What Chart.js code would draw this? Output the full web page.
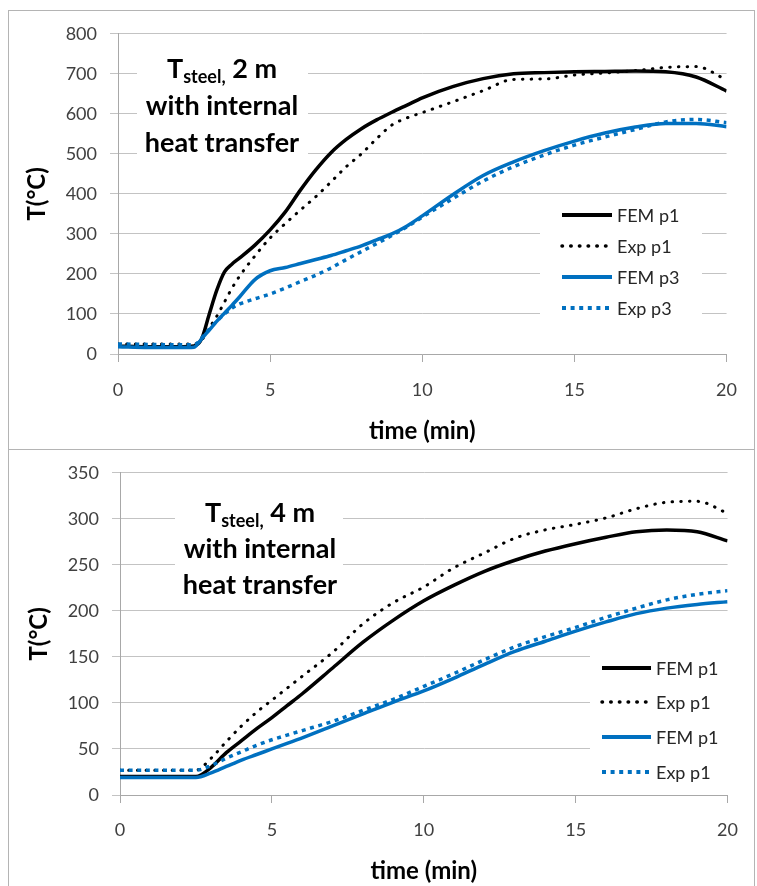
<!DOCTYPE html>
<html>
<head>
<meta charset="utf-8">
<script src="https://cdn.jsdelivr.net/npm/chart.js@4.4.1/dist/chart.umd.min.js"></script>
<style>
  html, body { margin: 0; padding: 0; background: #fff; }
  body { position: relative; width: 757px; height: 886px; overflow: hidden; }
  .panel { position: absolute; left: 8px; width: 745px; border: 1px solid #b4b4b4; }
  #p1 { top: 10px; height: 438px; }
  #p2 { top: 449px; height: 460px; }
  canvas { position: absolute; left: 8px; }
  #c1 { top: 10px; }
  #c2 { top: 449px; }
</style>
</head>
<body>
<div class="panel" id="p1"></div>
<div class="panel" id="p2"></div>
<canvas id="c1" width="746" height="439"></canvas>
<canvas id="c2" width="746" height="437"></canvas>
<script>
// ---- data (time in min, temperature in °C) ----
var labelsTop = ['FEM p1', 'Exp p1', 'FEM p3', 'Exp p3'];
var labelsBot = ['FEM p1', 'Exp p1', 'FEM p1', 'Exp p1'];

var timeTop = [0, 1, 2, 2.5, 2.75, 3, 3.25, 3.5, 3.75, 4, 4.5, 5, 5.5, 6, 6.5, 7, 7.5, 8, 8.5, 9, 9.5, 10, 11, 12, 13, 14, 15, 16, 17, 18, 19, 20];
var femP1Top = [20, 18, 18, 20, 38, 100, 160, 205, 225, 240, 272, 310, 355, 410, 460, 503, 536, 563, 585, 604, 622, 640, 668, 688, 700, 703, 705, 706, 707, 705, 692, 657];
var expP1Top = [25, 25, 25, 25, 35, 65, 95, 130, 165, 195, 245, 290, 326, 360, 393, 430, 468, 500, 538, 572, 590, 603, 630, 658, 686, 687, 697, 702, 708, 716, 718, 685];
var femP3Top = [18, 16, 16, 17, 38, 60, 82, 102, 122, 143, 186, 208, 216, 226, 236, 246, 258, 270, 285, 300, 320, 345, 398, 446, 480, 508, 532, 552, 567, 576, 576, 568];
var expP3Top = [25, 24, 23, 23, 40, 62, 82, 100, 115, 125, 138, 150, 165, 181, 197, 215, 236, 256, 276, 296, 318, 342, 388, 432, 468, 497, 522, 542, 561, 580, 586, 578];

var timeBot = [0, 1, 2, 2.5, 3, 3.5, 4, 4.5, 5, 5.5, 6, 7, 8, 9, 10, 11, 12, 13, 14, 15, 16, 17, 18, 19, 20];
var femP1Bot = [20, 20, 20, 20, 30, 46, 59, 72, 84, 97, 110, 138, 166, 190, 211, 228, 243, 255, 265, 273, 280, 286, 288, 286, 276];
var expP1Bot = [27, 27, 27, 27, 40, 58, 75, 90, 103, 116, 129, 155, 186, 209, 226, 247, 263, 279, 288, 294, 301, 311, 318, 319, 306];
var femP3Bot = [19, 19, 19, 19, 24, 31, 38, 44, 50, 56, 62, 75, 88, 101, 113, 127, 142, 156, 167, 178, 188, 197, 203, 207, 210];
var expP3Bot = [27, 27, 27, 27, 32, 40, 47, 54, 60, 65, 70, 80, 92, 104, 118, 132, 147, 161, 172, 182, 193, 203, 212, 218, 222];

var xMax = 20, xStep = 5;
var yMaxTop = 800, yStepTop = 100;
var yMaxBot = 350, yStepBot = 50;

// ---- styling ----
var FONT = "Lato, 'Open Sans', sans-serif";
var BLUE = '#0070c0';
var GRID = '#c3c3c3';
var AXIS = '#a8a8a8';
var TICK = '#404040';

function pts(xs, ys) { return xs.map(function (x, i) { return { x: x, y: ys[i] }; }); }

// solid / dotted line styles, same order as the labels
var styles = [
  { color: '#000', width: 3.5, dash: [], cap: 'butt', order: 4 },
  { color: '#000', width: 3, dash: [0.5, 8.2], cap: 'round', order: 3 },
  { color: BLUE, width: 3.5, dash: [], cap: 'butt', order: 2 },
  { color: BLUE, width: 3.5, dash: [4, 4.6], cap: 'butt', order: 1 }
];

function datasets(labels, time, series) {
  return series.map(function (s, i) {
    var st = styles[i];
    return {
      label: labels[i], data: pts(time, s),
      borderColor: st.color, backgroundColor: st.color, borderWidth: st.width,
      borderDash: st.dash, borderCapStyle: st.cap, borderJoinStyle: 'round',
      pointRadius: 0, cubicInterpolationMode: 'monotone', order: st.order
    };
  });
}

// white box + bold caption "T_steel, N m / with internal / heat transfer"
// and a legend with its own white box; both sit under the curves
var notePlugin = {
  id: 'note',
  beforeDatasetsDraw: function (chart) {
    var o = chart.options.plugins.note;
    var ctx = chart.ctx;
    ctx.save();
    ctx.fillStyle = '#fff';
    ctx.fillRect(o.box[0], o.box[1], o.box[2] - o.box[0], o.box[3] - o.box[1]);
    ctx.fillRect(o.legBox[0], o.legBox[1], o.legBox[2] - o.legBox[0], o.legBox[3] - o.legBox[1]);

    // caption
    ctx.fillStyle = '#000';
    ctx.textBaseline = 'alphabetic';
    var big = 'bold 27px ' + FONT, small = 'bold 18px ' + FONT;
    ctx.font = big;
    var wT = ctx.measureText('T').width;
    var wRest = ctx.measureText(o.rest).width;
    ctx.font = small;
    var wSub = ctx.measureText('steel,').width;
    var x0 = o.cx - (wT + wSub + wRest) / 2;
    ctx.textAlign = 'left';
    ctx.font = big; ctx.fillText('T', x0, o.base[0]);
    ctx.font = small; ctx.fillText('steel,', x0 + wT, o.base[0] + 5);
    ctx.font = big; ctx.fillText(o.rest, x0 + wT + wSub, o.base[0]);
    ctx.textAlign = 'center';
    ctx.fillText('with internal', o.cx, o.base[1]);
    ctx.fillText('heat transfer', o.cx, o.base[2]);

    // legend
    ctx.font = '18px ' + FONT;
    ctx.textAlign = 'left';
    ctx.textBaseline = 'middle';
    chart.data.datasets.forEach(function (d, i) {
      var y = o.rows[i];
      ctx.beginPath();
      ctx.strokeStyle = d.borderColor;
      ctx.lineWidth = d.borderWidth + 0.5;
      ctx.lineCap = d.borderCapStyle;
      ctx.setLineDash(d.borderDash);
      ctx.moveTo(o.sample[0], y);
      ctx.lineTo(o.sample[1], y);
      ctx.stroke();
      ctx.setLineDash([]);
      ctx.fillStyle = '#262626';
      ctx.fillText(d.label, o.sample[1] + 5, y + 1);
    });
    ctx.restore();
  }
};

function makeChart(canvas, cfg) {
  return new Chart(canvas.getContext('2d'), {
    type: 'line',
    data: { datasets: cfg.datasets },
    plugins: [notePlugin],
    options: {
      responsive: false, animation: false, events: [],
      layout: { padding: { top: 22, right: 24, left: 0, bottom: 0 } },
      plugins: { legend: { display: false }, tooltip: { enabled: false }, note: cfg.note },
      scales: {
        x: {
          type: 'linear', min: 0, max: xMax,
          afterFit: function (s) { s.height = cfg.xHeight; },
          ticks: { stepSize: xStep, color: TICK, font: { family: FONT, size: 18 }, padding: cfg.xTickPad, maxRotation: 0 },
          grid: { drawOnChartArea: false, drawTicks: true, tickLength: 8, color: AXIS },
          border: { display: true, color: AXIS, width: 1 },
          title: { display: true, text: 'time (min)', color: '#000',
                   font: { family: FONT, size: 24, weight: 'bold' }, padding: { top: 0, bottom: cfg.xTitlePad } }
        },
        y: {
          min: 0, max: cfg.yMax,
          afterFit: function (s) { s.width = cfg.yWidth; },
          ticks: { stepSize: cfg.yStep, color: TICK, font: { family: FONT, size: 18 }, padding: 13 },
          grid: { color: GRID, tickLength: 8, drawTicks: true },
          border: { display: true, color: AXIS, width: 1 },
          title: { display: true, text: 'T(°C)', color: '#000',
                   font: { family: FONT, size: 24, weight: 'bold' }, padding: { top: cfg.yTitlePad, bottom: 0 } }
        }
      }
    }
  });
}

makeChart(document.getElementById('c1'), {
  datasets: datasets(labelsTop, timeTop, [femP1Top, expP1Top, femP3Top, expP3Top]),
  yMax: yMaxTop, yStep: yStepTop, yWidth: 110, xHeight: 95,
  xTickPad: 17, xTitlePad: 3, yTitlePad: 15,
  note: {
    box: [129, 35, 300, 150], cx: 214, base: [68, 105, 142], rest: ' 2 m',
    legBox: [532, 190, 694, 320], rows: [205, 236, 267, 298], sample: [554, 604]
  }
});

makeChart(document.getElementById('c2'), {
  datasets: datasets(labelsBot, timeBot, [femP1Bot, expP1Bot, femP3Bot, expP3Bot]),
  yMax: yMaxBot, yStep: yStepBot, yWidth: 112, xHeight: 91,
  xTickPad: 16, xTitlePad: 0, yTitlePad: 17,
  note: {
    box: [167, 41, 335, 151], cx: 252, base: [73, 109, 145], rest: ' 4 m',
    legBox: [582, 166, 722, 337], rows: [219, 253, 288, 323], sample: [594, 643]
  }
});
</script>
</body>
</html>
